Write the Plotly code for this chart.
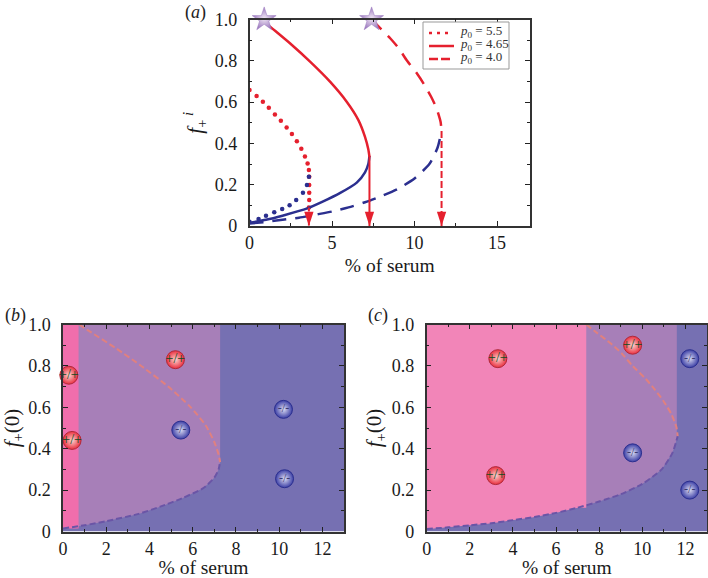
import plotly.graph_objects as go

W, H = 708, 578
FONT = "Liberation Serif"

# curves
solid_up_x = [0.75, 1.14, 2.45, 3.67, 4.88, 5.89, 6.6, 7.0, 7.2, 7.27]
solid_up_y = [1.0, 0.973, 0.885, 0.796, 0.699, 0.602, 0.513, 0.432, 0.372, 0.335]
solid_lo_x = [0.0, 1.0, 2.0, 3.5, 4.5, 5.5, 6.5, 7.0, 7.2, 7.27]
solid_lo_y = [0.015, 0.03, 0.05, 0.085, 0.12, 0.16, 0.21, 0.26, 0.3, 0.34]
arrow_mid_x = [7.27, 7.27]
arrow_mid_y = [0.34, 0.0]

dash_up_x = [7.4, 7.83, 8.54, 9.05, 9.55, 10.16, 10.57, 11.0, 11.34, 11.58, 11.64]
dash_up_y = [1.0, 0.965, 0.908, 0.86, 0.80, 0.737, 0.687, 0.627, 0.569, 0.505, 0.46]
dash_lo_x = [0.0, 1.0, 2.0, 3.0, 4.0, 5.0, 6.0, 7.0, 8.0, 9.0, 10.0, 10.9, 11.4, 11.64]
dash_lo_y = [0.012, 0.02, 0.03, 0.04, 0.055, 0.07, 0.09, 0.115, 0.145, 0.18, 0.23, 0.30, 0.38, 0.46]
arrow_dash_x = [11.64, 11.64]
arrow_dash_y = [0.46, 0.0]

dot_up_x = [0, .43, .81, 1.17, 1.54, 1.90, 2.25, 2.57, 2.87, 3.14, 3.36, 3.52, 3.60, 3.62, 3.62, 3.62, 3.62, 3.60]
dot_up_y = [.658, .629, .602, .573, .540, .510, .477, .445, .410, .374, .337, .303, .271, .239, .198, .161, .126, .09]
dot_lo_x = [0, .55, 1.0, 1.5, 1.98, 2.43, 2.83, 3.24, 3.48, 3.6]
dot_lo_y = [.02, .034, .05, .066, .082, .10, .126, .161, .198, .239]
arrow_dot_x = [3.6, 3.6]
arrow_dot_y = [0.09, 0.0]

star_x = [0.89, 7.4]
star_y = [1.0, 1.0]

x_ticks_a = [0, 5, 10, 15]
x_ticks_bc = [0, 2, 4, 6, 8, 10, 12]
y_ticks = [0, 0.2, 0.4, 0.6, 0.8, 1.0]
y_labels = ["0", "0.2", "0.4", "0.6", "0.8", "1.0"]
legend_names = ["<i>p</i><sub>0</sub> = 5.5", "<i>p</i><sub>0</sub> = 4.65", "<i>p</i><sub>0</sub> = 4.0"]

# regions of panels b and c
b_pink_right = 0.72
c_pink_right = 7.4
b_pos_x = [0.27, 0.42, 5.2]
b_pos_y = [0.755, 0.44, 0.83]
b_neg_x = [5.45, 10.2, 10.25]
b_neg_y = [0.49, 0.59, 0.255]
c_pos_x = [3.3, 3.2, 9.55]
c_pos_y = [0.835, 0.27, 0.9]
c_neg_x = [9.55, 12.2, 12.2]
c_neg_y = [0.38, 0.835, 0.2]

RED = "#E5202E"
BLUE = "#2B2F8F"
PINK_B = "#F06EAC"
PINK_C = "#F285B8"
MID = "#A77FB8"
DARK = "#7670B2"

fig = go.Figure()


def add(x, y, axis, **kw):
    fig.add_trace(go.Scatter(x=x, y=y, xaxis="x" + axis, yaxis="y" + axis, showlegend=False, **kw))


# panel a
add(dot_up_x, dot_up_y, "", mode="markers", marker=dict(color=RED, size=4.5))
add(dot_lo_x, dot_lo_y, "", mode="markers", marker=dict(color=BLUE, size=4.5))
add(solid_lo_x, solid_lo_y, "", mode="lines", line=dict(color=BLUE, width=2.5, shape="spline", smoothing=0.6))
add(dash_lo_x, dash_lo_y, "", mode="lines", line=dict(color=BLUE, width=2.5, dash="14px,9px", shape="spline", smoothing=0.6))
add(solid_up_x, solid_up_y, "", mode="lines", line=dict(color=RED, width=2.5, shape="spline", smoothing=0.6))
add(dash_up_x, dash_up_y, "", mode="lines", line=dict(color=RED, width=2.5, dash="14px,9px", shape="spline", smoothing=0.6))
for ax_, ay_, d in [(arrow_dot_x, arrow_dot_y, "4px,3px"), (arrow_mid_x, arrow_mid_y, "solid"), (arrow_dash_x, arrow_dash_y, "7px,3px")]:
    add(ax_, ay_, "", mode="lines", line=dict(color=RED, width=2, dash=d))
    add(ax_[1:], ay_[1:], "", mode="markers", cliponaxis=False,
        marker=dict(symbol="arrow", angle=180, size=15, color=RED, line=dict(width=0)))
add(star_x, star_y, "", mode="markers", cliponaxis=False,
    marker=dict(symbol="star", size=18, color="#9A78BE", gradient=dict(type="radial", color="#F0E6F4"),
                line=dict(color="#9A78BE", width=0.5)))


def panel(axis, pink_right, upx, upy, lox, loy, right, posx, posy, negx, negy, pink):
    add([0, 13, 13, 0], [0, 0, 1, 1], axis, mode="lines", fill="toself", fillcolor=DARK, line=dict(width=0))
    purple_x = lox + [right, right, 0]
    purple_y = loy + [loy[-1], 1, 1]
    add(purple_x, purple_y, axis, mode="lines", fill="toself", fillcolor=MID, line=dict(width=0))
    kept = [(a, b) for a, b in zip(lox, loy) if a <= pink_right]
    pink_x = [p[0] for p in kept] + [pink_right, pink_right, 0]
    pink_y = [p[1] for p in kept] + [kept[-1][1], 1, 1]
    add(pink_x, pink_y, axis, mode="lines", fill="toself", fillcolor=pink, line=dict(width=0))
    add(upx, upy, axis, mode="lines", line=dict(color="#E0807F", width=2, dash="6px,3px", shape="spline", smoothing=0.6))
    add(lox, loy, axis, mode="lines", line=dict(color="#6A55A6", width=2, dash="6px,3px", shape="spline", smoothing=0.6))
    add(posx, posy, axis, mode="markers+text", cliponaxis=False, text=["+/+"] * 3, textposition="middle center",
        textfont=dict(color="#0F4A1F", size=14, family=FONT),
        marker=dict(size=18, color="#EA2F40", gradient=dict(type="radial", color="#FBD5CF"),
                    line=dict(color="#B02A3A", width=1)))
    add(negx, negy, axis, mode="markers+text", cliponaxis=False, text=["-/-"] * 3, textposition="middle center",
        textfont=dict(color="#3A3A70", size=12, family=FONT),
        marker=dict(size=18, color="#3C3FA6", gradient=dict(type="radial", color="#DDDDF2"),
                    line=dict(color="#2B2F8F", width=1)))


panel("2", b_pink_right, solid_up_x, solid_up_y, solid_lo_x, solid_lo_y, 7.27, b_pos_x, b_pos_y, b_neg_x, b_neg_y, PINK_B)
panel("3", c_pink_right, dash_up_x, dash_up_y, dash_lo_x, dash_lo_y, 11.6, c_pos_x, c_pos_y, c_neg_x, c_neg_y, PINK_C)


def xax(l, r, anchor, rng, ticks, dt, st):
    return dict(domain=[l / W, r / W], anchor=anchor, range=rng, tickvals=ticks, ticks="inside", ticklen=5, tickwidth=1.2,
                tickcolor="#222", showline=True, linecolor="#333", linewidth=1.5, mirror="allticks", showgrid=False,
                zeroline=False, tickfont=dict(family=FONT, size=18, color="#1a1a1a"),
                title=dict(text="% of serum", font=dict(family=FONT, size=19.5, color="#1a1a1a"), standoff=st),
                minor=dict(dtick=dt, ticks="inside", ticklen=3, tickwidth=1, tickcolor="#222"))


def yax(t, b, anchor, title, st):
    return dict(domain=[1 - b / H, 1 - t / H], anchor=anchor, range=[0, 1], tickvals=y_ticks, ticktext=y_labels, ticks="inside",
                ticklen=5, tickwidth=1.2, tickcolor="#222", showline=True, linecolor="#333", linewidth=1.5, mirror="allticks",
                showgrid=False, zeroline=False, ticklabelstandoff=7, tickfont=dict(family=FONT, size=18, color="#1a1a1a"),
                title=dict(text=title, font=dict(family=FONT, size=21, color="#1a1a1a"), standoff=st),
                minor=dict(dtick=0.1, ticks="inside", ticklen=3, tickwidth=1, tickcolor="#222"))


def px_x(v):
    return v / W


def px_y(v):
    return 1 - v / H


legend_rows = [33, 46, 59]
legend_dash = ["3px,5px", "solid", "9px,3px"]
legend_width = [21, 25, 22]
shapes = [dict(type="rect", xref="paper", yref="paper", x0=px_x(423), x1=px_x(509), y0=px_y(69), y1=px_y(22),
               fillcolor="white", line=dict(color="#999", width=1))]
notes = []
for row, name, d, w_ in zip(legend_rows, legend_names, legend_dash, legend_width):
    shapes.append(dict(type="line", xref="paper", yref="paper", x0=px_x(429), x1=px_x(429 + w_), y0=px_y(row), y1=px_y(row),
                       line=dict(color=RED, width=2.5, dash=d)))
    notes.append(dict(text=name, xref="paper", yref="paper", x=px_x(458), y=px_y(row - 1), xanchor="left", yanchor="middle",
                      showarrow=False, font=dict(family=FONT, size=13, color="#333")))
for label, x_, y_ in [("(<i>a</i>)", 183, 0), ("(<i>b</i>)", 3, 303), ("(<i>c</i>)", 366, 303)]:
    notes.append(dict(text=label, xref="paper", yref="paper", x=px_x(x_), y=px_y(y_), yanchor="top", xanchor="left",
                      showarrow=False, font=dict(family=FONT, size=18, color="#222")))

fig.update_layout(
    width=W, height=H, margin=dict(l=0, r=0, t=0, b=0, autoexpand=False), paper_bgcolor="white", plot_bgcolor="white",
    showlegend=False,
    xaxis=xax(249.5, 530, "y", [0, 17], x_ticks_a, 2.5, 6),
    yaxis=yax(19.5, 226, "x", "<i>f</i><sub>+</sub><sup> <i>i</i></sup>", 6),
    xaxis2=xax(63, 344, "y2", [0, 13], x_ticks_bc, 1, 0),
    yaxis2=yax(324.5, 531.5, "x2", "<i>f</i><sub>+</sub>(0)", 4),
    xaxis3=xax(426.7, 707, "y3", [0, 13], x_ticks_bc, 1, 0),
    yaxis3=yax(324.5, 531.5, "x3", "<i>f</i><sub>+</sub>(0)", 4),
    shapes=shapes,
    annotations=notes,
)
fig.write_html("out.html", config={"displayModeBar": False}, post_script="document.body.style.margin='0';")
